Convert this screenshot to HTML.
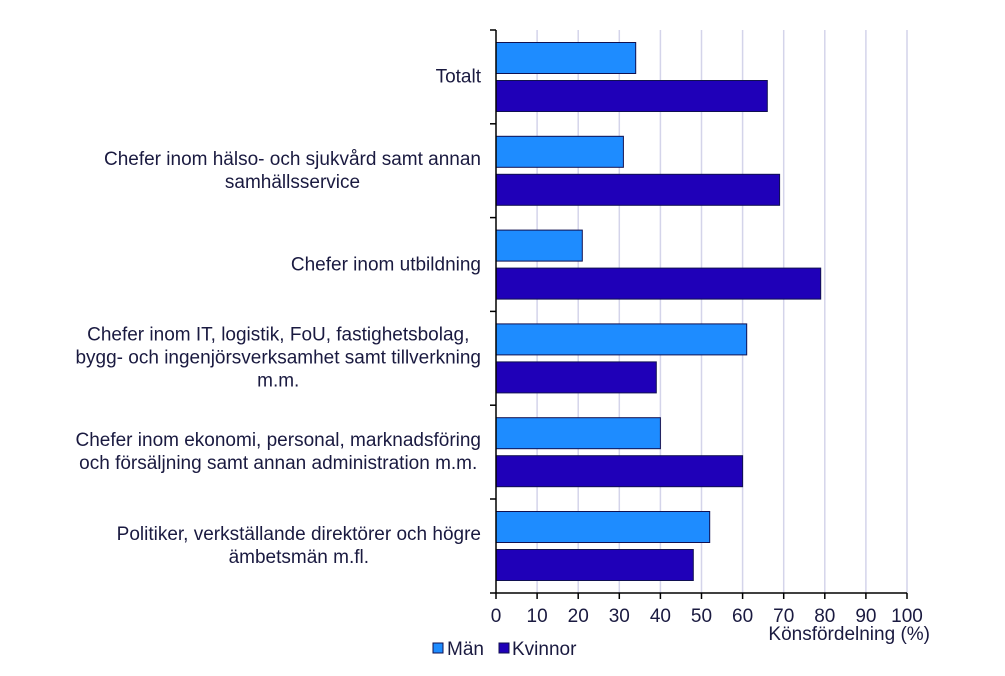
<!DOCTYPE html>
<html><head><meta charset="utf-8"><style>
body{margin:0;width:1005px;height:676px;background:#fff;position:relative;overflow:hidden;font-family:"Liberation Sans",Arial,sans-serif;color:#1a1a40}
.lab{position:absolute;right:524px;text-align:center;white-space:nowrap;font-size:19px;line-height:23px;transform:translateY(-50%)}
</style></head><body>
<svg width="1005" height="676" style="position:absolute;left:0;top:0">
<g stroke="#d4d4ea" stroke-width="1.5">
<line x1="537.1" y1="30" x2="537.1" y2="593"/><line x1="578.2" y1="30" x2="578.2" y2="593"/><line x1="619.3" y1="30" x2="619.3" y2="593"/><line x1="660.4" y1="30" x2="660.4" y2="593"/><line x1="701.5" y1="30" x2="701.5" y2="593"/><line x1="742.6" y1="30" x2="742.6" y2="593"/><line x1="783.7" y1="30" x2="783.7" y2="593"/><line x1="824.8" y1="30" x2="824.8" y2="593"/><line x1="865.9" y1="30" x2="865.9" y2="593"/><line x1="907" y1="30" x2="907" y2="593"/>
</g>
<g stroke="#101050" stroke-width="1">
<rect x="496" y="42.5" width="139.7" height="31" fill="#1e8cff"/><rect x="496" y="80.5" width="271.3" height="31" fill="#1f00b8"/>
<rect x="496" y="136.3" width="127.4" height="31" fill="#1e8cff"/><rect x="496" y="174.3" width="283.6" height="31" fill="#1f00b8"/>
<rect x="496" y="230.1" width="86.3" height="31" fill="#1e8cff"/><rect x="496" y="268.1" width="324.7" height="31" fill="#1f00b8"/>
<rect x="496" y="323.9" width="250.7" height="31" fill="#1e8cff"/><rect x="496" y="361.9" width="160.3" height="31" fill="#1f00b8"/>
<rect x="496" y="417.7" width="164.4" height="31" fill="#1e8cff"/><rect x="496" y="455.7" width="246.6" height="31" fill="#1f00b8"/>
<rect x="496" y="511.5" width="213.7" height="31" fill="#1e8cff"/><rect x="496" y="549.5" width="197.3" height="31" fill="#1f00b8"/>
</g>
<g stroke="#000" stroke-width="1.5">
<line x1="496" y1="30" x2="496" y2="593"/><line x1="490" y1="593" x2="907" y2="593"/>
<line x1="490" y1="30" x2="496" y2="30"/><line x1="490" y1="123.8" x2="496" y2="123.8"/><line x1="490" y1="217.6" x2="496" y2="217.6"/><line x1="490" y1="311.4" x2="496" y2="311.4"/><line x1="490" y1="405.2" x2="496" y2="405.2"/><line x1="490" y1="499" x2="496" y2="499"/>
<line x1="496" y1="593" x2="496" y2="599"/><line x1="537.1" y1="593" x2="537.1" y2="599"/><line x1="578.2" y1="593" x2="578.2" y2="599"/><line x1="619.3" y1="593" x2="619.3" y2="599"/><line x1="660.4" y1="593" x2="660.4" y2="599"/><line x1="701.5" y1="593" x2="701.5" y2="599"/><line x1="742.6" y1="593" x2="742.6" y2="599"/><line x1="783.7" y1="593" x2="783.7" y2="599"/><line x1="824.8" y1="593" x2="824.8" y2="599"/><line x1="865.9" y1="593" x2="865.9" y2="599"/><line x1="907" y1="593" x2="907" y2="599"/>
</g>
<g font-family="Liberation Sans, Arial, sans-serif" font-size="19" fill="#1a1a40" text-anchor="middle">
<text x="496" y="622">0</text><text x="537.1" y="622">10</text><text x="578.2" y="622">20</text><text x="619.3" y="622">30</text><text x="660.4" y="622">40</text><text x="701.5" y="622">50</text><text x="742.6" y="622">60</text><text x="783.7" y="622">70</text><text x="824.8" y="622">80</text><text x="865.9" y="622">90</text><text x="907" y="622">100</text>
<text x="930" y="640" text-anchor="end">Könsfördelning (%)</text>
<rect x="433" y="643" width="10" height="10" fill="#1e8cff" stroke="#101050"/>
<text x="447" y="655" text-anchor="start">Män</text>
<rect x="499" y="643" width="10" height="10" fill="#1f00b8" stroke="#101050"/>
<text x="512" y="655" text-anchor="start">Kvinnor</text>
</g>
</svg>
<div class="lab" style="top:77px">Totalt</div>
<div class="lab" style="top:171px">Chefer inom hälso- och sjukvård samt annan<br>samhällsservice</div>
<div class="lab" style="top:265px">Chefer inom utbildning</div>
<div class="lab" style="top:358px">Chefer inom IT, logistik, FoU, fastighetsbolag,<br>bygg- och ingenjörsverksamhet samt tillverkning<br>m.m.</div>
<div class="lab" style="top:452px">Chefer inom ekonomi, personal, marknadsföring<br>och försäljning samt annan administration m.m.</div>
<div class="lab" style="top:546px">Politiker, verkställande direktörer och högre<br>ämbetsmän m.fl.</div>
</body></html>
